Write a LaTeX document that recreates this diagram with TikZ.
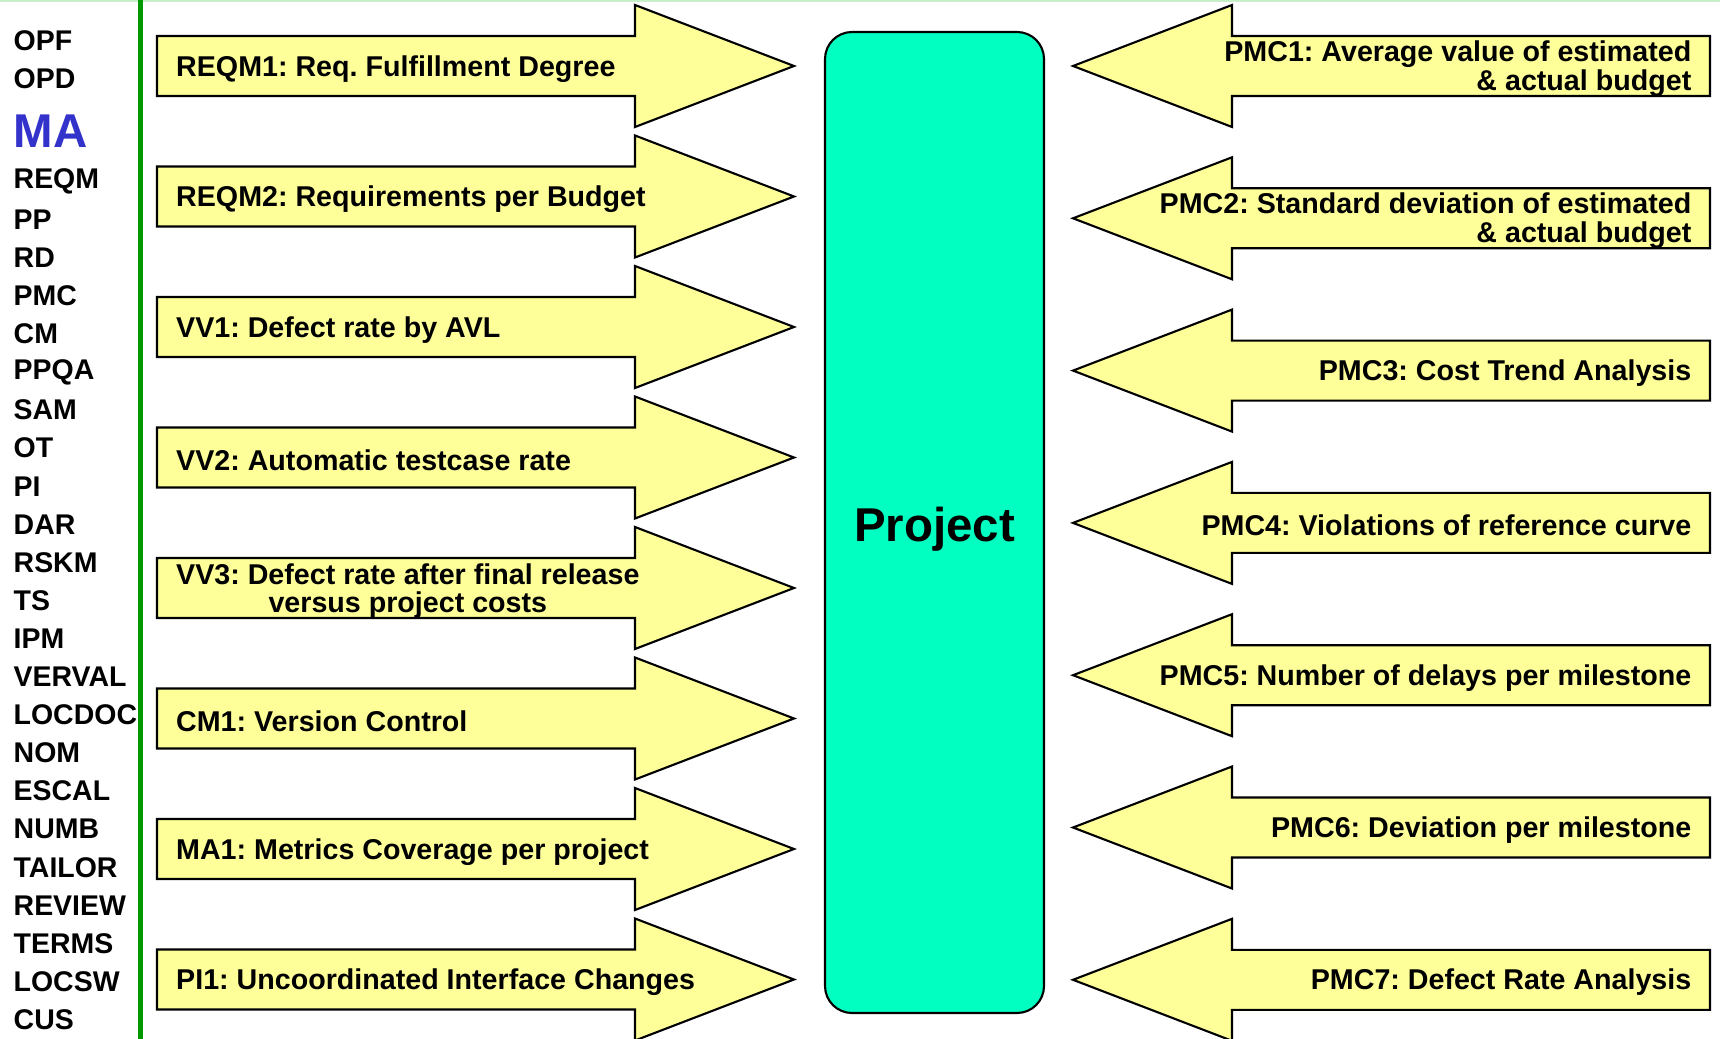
\documentclass[tikz,border=0pt]{standalone}
\usepackage{fontspec}
\setmainfont{Liberation Sans}
\frenchspacing
\definecolor{arrowyellow}{RGB}{255,255,153}
\definecolor{projectgreen}{RGB}{0,255,192}
\definecolor{bargreen}{RGB}{0,153,0}
\definecolor{topgreen}{RGB}{200,240,200}
\definecolor{mablue}{RGB}{51,51,204}
\tikzset{
  arrowbox/.style={fill=arrowyellow, draw=black, line width=0.6pt, line join=miter},
  metric/.style={inner sep=0pt, font=\fontsize{8.15}{8.1}\selectfont\bfseries},
  area/.style={inner sep=0pt, font=\fontsize{8.1}{9}\selectfont\bfseries, anchor=west},
  projectbox/.style={draw=black, line width=0.6pt, fill=projectgreen, rounded corners=2.7mm,
    minimum width=21.9mm, minimum height=98.1mm, inner sep=0pt}
}
\begin{document}
\begin{tikzpicture}[x=0.1mm, y=-0.1mm]
\useasboundingbox (0,0) rectangle (1720,1039);
\clip (0,0) rectangle (1720,1039);

\newcommand\leftmetric[3]{
  \filldraw[arrowbox] (157,#1-30) -- (635,#1-30) -- (635,#1-61) -- (794,#1) -- (635,#1+61) -- (635,#1+30) -- (157,#1+30) -- cycle;
  \node[metric, anchor=west, align=center] (#2) at (175.5,#1+3) {#3};
}
\newcommand\rightmetric[3]{
  \filldraw[arrowbox] (1710,#1-30) -- (1232,#1-30) -- (1232,#1-61) -- (1073,#1) -- (1232,#1+61) -- (1232,#1+30) -- (1710,#1+30) -- cycle;
  \node[metric, anchor=east, align=right] (#2) at (1692,#1+2.5) {#3};
}

\draw[topgreen, line width=0.6pt] (0,1) -- (1720,1);
\draw[bargreen, line width=1.15pt] (140.5,0) -- (140.5,1039);

\foreach \lab/\ly in {OPF/40.6,OPD/79} {\node[area] (pa-\lab) at (13,\ly) {\lab};}
\node[area, text=mablue, font=\fontsize{13.5}{15}\selectfont\bfseries] (pa-MA) at (13,131) {MA};
\foreach \lab [count=\k] in {REQM,PP,RD,PMC,CM,PPQA,SAM,OT,PI,DAR,RSKM,TS,IPM,VERVAL,LOCDOC,NOM,ESCAL,NUMB,TAILOR,REVIEW,TERMS,LOCSW,CUS} {
  \node[area] (pa-\lab) at (13,{181.5+38.1*(\k-1)}) {\lab};
}

\leftmetric{66}{reqm1}{REQM1: Req. Fulfillment Degree}
\leftmetric{196.5}{reqm2}{REQM2: Requirements per Budget}
\leftmetric{327}{vv1}{VV1: Defect rate by AVL}
\leftmetric{457.5}{vv2}{VV2: Automatic testcase rate}
\leftmetric{588}{vv3}{VV3: Defect rate after final release\\versus project costs}
\leftmetric{718.5}{cm1}{CM1: Version Control}
\leftmetric{849}{ma1}{MA1: Metrics Coverage per project}
\leftmetric{979.5}{pi1}{PI1: Uncoordinated Interface Changes}

\node[projectbox] (project) at (934.5,522.5) {};
\node[font=\fontsize{13.5}{15}\selectfont\bfseries, inner sep=0pt] (projectlabel) at (934.5,529) {Project};

\rightmetric{66}{pmc1}{PMC1: Average value of estimated\\\& actual budget}
\rightmetric{218.3}{pmc2}{PMC2: Standard deviation of estimated\\\& actual budget}
\rightmetric{370.6}{pmc3}{PMC3: Cost Trend Analysis}
\rightmetric{522.9}{pmc4}{PMC4: Violations of reference curve}
\rightmetric{675.2}{pmc5}{PMC5: Number of delays per milestone}
\rightmetric{827.5}{pmc6}{PMC6: Deviation per milestone}
\rightmetric{979.8}{pmc7}{PMC7: Defect Rate Analysis}

\end{tikzpicture}
\end{document}
